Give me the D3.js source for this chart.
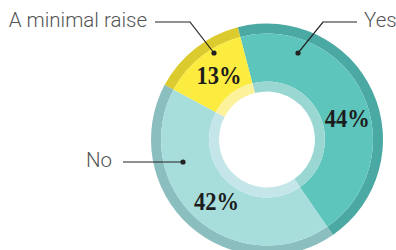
<!DOCTYPE html>
<html>
<head>
<meta charset="utf-8">
<script src="https://cdn.jsdelivr.net/npm/d3@7"></script>
<style>
  body { margin: 0; background: #fff; }
  svg { display: block; }
</style>
</head>
<body>
<div id="chart"></div>
<script>
(function () {
    var width = 396,
        height = 250;

    // answers, clockwise from the top
    var answers = ["Yes", "No", "A minimal raise"];
    var shares  = [44, 42, 13];
    var labels  = ["44%", "42%", "13%"];

    var mainColor  = ["#5ec5bc", "#a7dddb", "#fcec3f"];
    var outerColor = ["#4ba9a3", "#8bbebe", "#dccb2f"];
    var innerColor = ["#9ad7d2", "#c4e6e8", "#fdf29c"];

    var cx = 267, cy = 139.5;
    var rHole = 48, rInner = 58, rOuter = 106, rEdge = 116;

    var svg = d3.select("#chart")
        .append("svg")
        .attr("width", width)
        .attr("height", height);

    var data = answers.map(function (a, i) {
        return { answer: a, value: shares[i], label: labels[i], i: i };
    });

    var start = -14.6 * Math.PI / 180;
    var pie = d3.pie()
        .sort(null)
        .value(function (d) { return d.value; })
        .startAngle(start)
        .endAngle(start + 2 * Math.PI);

    var arcs = pie(data);

    var g = svg.append("g")
        .attr("transform", "translate(" + cx + "," + cy + ")");

    var bands = [
        { r0: rOuter, r1: rEdge,  colors: outerColor },
        { r0: rInner, r1: rOuter, colors: mainColor },
        { r0: rHole,  r1: rInner, colors: innerColor }
    ];

    bands.forEach(function (b) {
        var arc = d3.arc().innerRadius(b.r0).outerRadius(b.r1);
        g.selectAll(null)
            .data(arcs)
            .enter().append("path")
            .attr("d", arc)
            .attr("fill", function (d) { return b.colors[d.data.i]; });
    });

    // percentage labels (radius, angle in degrees clockwise from top)
    var labelPos = [
        { r: 83, a: 75.4 },   // 44%
        { r: 80, a: 219.2 },  // 42%
        { r: 80, a: 323.1 }   // 13%
    ];
    function px(d) { var p = labelPos[d.data.i]; return p.r * Math.sin(p.a * Math.PI / 180); }
    function py(d) { var p = labelPos[d.data.i]; return -p.r * Math.cos(p.a * Math.PI / 180); }

    g.selectAll(".pct")
        .data(arcs)
        .enter().append("text")
        .attr("class", "pct")
        .attr("x", function (d) { return px(d) - 22.5; })
        .attr("y", function (d) { return py(d) + 8.5; })
        .attr("textLength", 45)
        .attr("lengthAdjust", "spacingAndGlyphs")
        .attr("font-family", "'Liberation Serif', serif")
        .attr("font-weight", "bold")
        .attr("font-size", 25)
        .attr("fill", "#1c1c1c")
        .text(function (d) { return d.data.label; });

    // callouts
    var callouts = [
        { text: "Yes",             tx: 364, ty: 27,  anchor: "start", pts: [[357, 22], [323, 22], [298, 53]] },
        { text: "No",              tx: 112, ty: 167, anchor: "end",   pts: [[123, 162], [183, 162]] },
        { text: "A minimal raise", tx: 147, ty: 27,  anchor: "end",   pts: [[155, 22], [190, 22], [214, 53]] }
    ];

    var line = d3.line();
    callouts.forEach(function (c) {
        svg.append("path")
            .attr("d", line(c.pts))
            .attr("fill", "none")
            .attr("stroke", "#222")
            .attr("stroke-width", 1.2);
        var last = c.pts[c.pts.length - 1];
        svg.append("circle")
            .attr("cx", last[0])
            .attr("cy", last[1])
            .attr("r", 2.6)
            .attr("fill", "#222");
        svg.append("text")
            .attr("x", c.tx)
            .attr("y", c.ty)
            .attr("text-anchor", c.anchor)
            .attr("font-family", "Roboto, sans-serif")
            .attr("font-weight", 300)
            .attr("font-size", 20.5)
            .attr("fill", "#555")
            .text(c.text);
    });
})();
</script>
</body>
</html>
